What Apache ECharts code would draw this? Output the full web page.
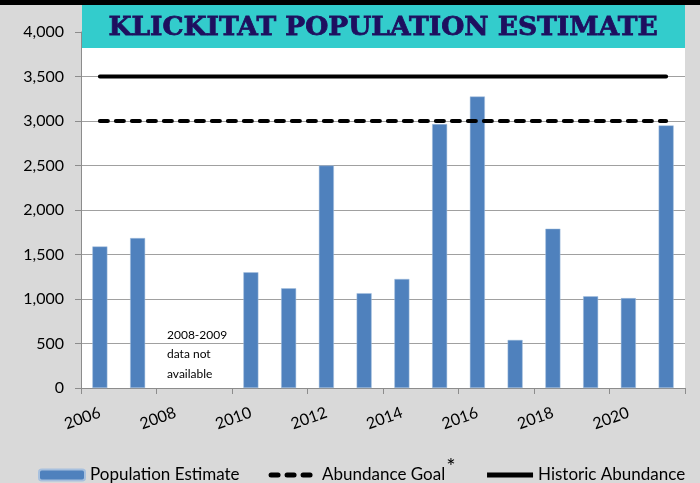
<!DOCTYPE html>
<html>
<head>
<meta charset="utf-8">
<script src="https://cdn.jsdelivr.net/npm/echarts@6/dist/echarts.min.js"></script>
<style>
  html, body { margin: 0; padding: 0; background: #d9d9d9; }
  #chart { width: 700px; height: 483px; }
</style>
</head>
<body>
<div id="chart"></div>
<script>
// 数据
const years = ['2006', '2007', '2008', '2009', '2010', '2011', '2012', '2013',
  '2014', '2015', '2016', '2017', '2018', '2019', '2020', '2021']
const populationEstimate = [1590, 1685, null, null, 1300, 1120, 2500, 1065,
  1225, 2965, 3275, 540, 1790, 1030, 1010, 2950]
const abundanceGoal = [3000, 3000, 3000, 3000, 3000, 3000, 3000, 3000,
  3000, 3000, 3000, 3000, 3000, 3000, 3000, 3000]
const historicAbundance = [3500, 3500, 3500, 3500, 3500, 3500, 3500, 3500,
  3500, 3500, 3500, 3500, 3500, 3500, 3500, 3500]

const myChart = echarts.init(document.getElementById('chart'))
const font = 'Lato, "Noto Sans", sans-serif'

const option = {
  backgroundColor: '#d9d9d9',
  animation: false,
  grid: {
    left: 81,
    right: 15,
    top: 32,
    bottom: 95,
    show: true,
    backgroundColor: '#fff',
    borderWidth: 0
  },
  xAxis: {
    type: 'category',
    data: years,
    axisLine: { lineStyle: { color: '#8c8c8c', width: 1 } },
    axisTick: { show: true, length: 6, lineStyle: { color: '#8c8c8c' } },
    axisLabel: {
      interval: 1,
      rotate: 20,
      color: '#000',
      fontFamily: font,
      fontSize: 16,
      margin: 24
    }
  },
  yAxis: {
    type: 'value',
    min: 0,
    max: 4000,
    interval: 500,
    axisLine: { show: true, lineStyle: { color: '#8c8c8c' } },
    axisTick: { show: true, length: 6, lineStyle: { color: '#8c8c8c' } },
    splitLine: { lineStyle: { color: '#a0a0a0', width: 1 } },
    axisLabel: {
      color: '#000',
      fontFamily: font,
      fontSize: 16,
      margin: 17,
      formatter: v => v.toLocaleString('en-US')
    }
  },
  legend: {
    left: 33,
    top: 451,
    itemWidth: 46,
    itemHeight: 11,
    itemGap: 29,
    textStyle: {
      color: '#000',
      fontFamily: font,
      fontSize: 17,
      rich: {
        n: { fontFamily: font, fontSize: 17, color: '#000' },
        s: { fontFamily: font, fontSize: 22, color: '#000', verticalAlign: 'top', padding: [0, 0, 16, 1] }
      }
    },
    formatter: function(name) {
      if (name === 'Abundance Goal') return '{n|Abundance Goal}{s|*}'
      return name
    },
    data: [
      'Population Estimate',
      {
        name: 'Abundance Goal',
        itemStyle: { opacity: 0 },
        lineStyle: { color: '#000', width: 5, type: [7, 9], cap: 'round' }
      },
      {
        name: 'Historic Abundance',
        itemStyle: { opacity: 0 },
        lineStyle: { color: '#000', width: 5, cap: 'butt' }
      }
    ]
  },
  graphic: [
    {
      type: 'rect',
      z: 100,
      shape: { x: 0, y: 0, width: 700, height: 5 },
      style: { fill: '#000' }
    },
    {
      type: 'rect',
      z: 100,
      shape: { x: 82, y: 5, width: 603, height: 43 },
      style: { fill: '#33cccc' }
    },
    {
      type: 'text',
      z: 101,
      x: 383,
      y: 28,
      style: {
        text: 'KLICKITAT POPULATION ESTIMATE',
        fill: '#1e0f5f',
        stroke: '#1e0f5f',
        lineWidth: 0.8,
        font: 'bold 26.5px "DejaVu Serif", "Liberation Serif", serif',
        align: 'center',
        verticalAlign: 'middle'
      }
    },
    {
      type: 'text',
      z: 101,
      x: 167,
      y: 325,
      style: {
        text: '2008-2009\ndata not\navailable',
        fill: '#000',
        font: '12px ' + font,
        lineHeight: 19.5
      }
    }
  ],
  series: [
    {
      name: 'Population Estimate',
      type: 'bar',
      data: populationEstimate,
      barWidth: 15,
      itemStyle: { color: '#4f81bd', borderColor: '#a7c0de', borderWidth: 0.5 }
    },
    {
      name: 'Abundance Goal',
      type: 'line',
      data: abundanceGoal,
      symbol: 'none',
      showSymbol: false,
      itemStyle: { color: '#000' },
      lineStyle: { color: '#000', width: 4, type: [8, 8], cap: 'round' },
      z: 5
    },
    {
      name: 'Historic Abundance',
      type: 'line',
      data: historicAbundance,
      symbol: 'none',
      showSymbol: false,
      itemStyle: { color: '#000' },
      lineStyle: { color: '#000', width: 4, cap: 'round' },
      z: 5
    }
  ]
}
option && myChart.setOption(option)
</script>
</body>
</html>
